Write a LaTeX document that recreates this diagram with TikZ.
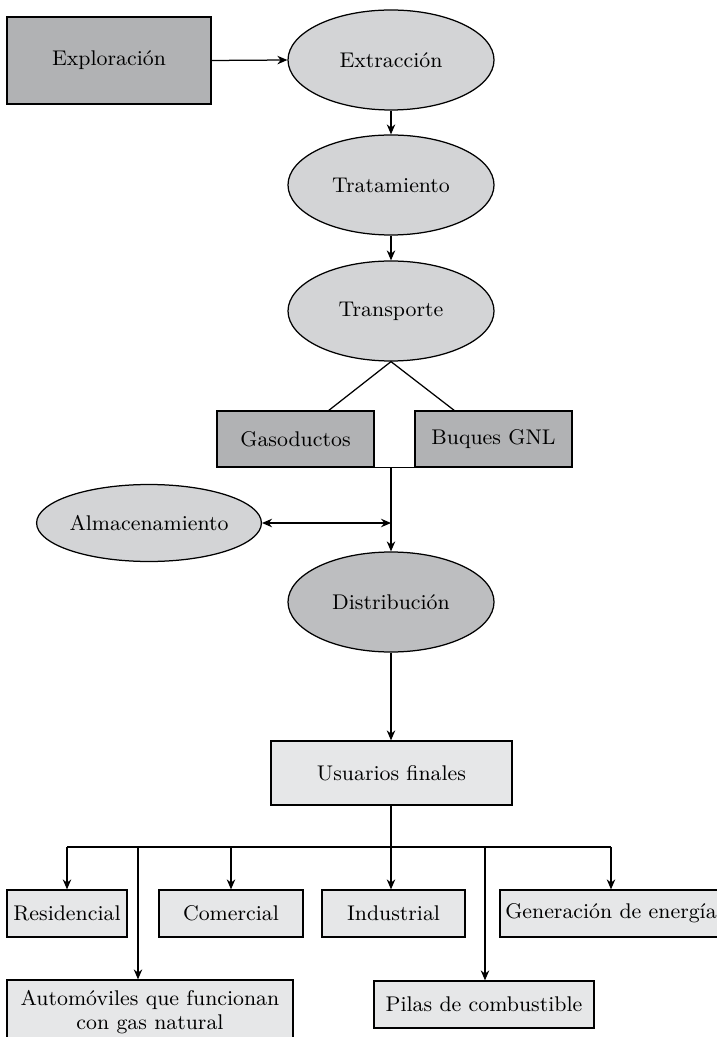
\documentclass[tikz,border=0pt]{standalone}
\usepackage{tikz}
\usetikzlibrary{shapes.geometric,arrows.meta}

\definecolor{darkbox}{RGB}{177,178,180}
\definecolor{ovalfill}{RGB}{211,212,214}
\definecolor{midoval}{RGB}{189,190,192}
\definecolor{lightbox}{RGB}{230,231,232}

\begin{document}
\begin{tikzpicture}[x=0.4pt, y=-0.4pt, font=\fontsize{8.5}{9.4}\selectfont,
    every node/.style={draw, line width=0.5pt, inner sep=0pt},
    darkrect/.style={rectangle, fill=darkbox},
    lightrect/.style={rectangle, fill=lightbox},
    oval/.style={ellipse, fill=ovalfill, minimum width=82.4pt, minimum height=40pt},
    link/.style={line width=0.5pt},
    arr/.style={link, -{Stealth[length=4pt, width=3.4pt]}}]
\useasboundingbox (0,0) rectangle (717,1037);
\node[darkrect, minimum width=81.6pt, minimum height=34.8pt] (explo) at (109,60.5) {Exploración};
\node[oval] (extr) at (391,60) {Extracción};
\node[oval] (trat) at (391,185) {Tratamiento};
\node[oval] (transp) at (391,311) {Transporte};
\node[darkrect, minimum width=62.8pt, minimum height=22.4pt] (gaso) at (295.5,439) {Gasoductos};
\node[darkrect, minimum width=62.8pt, minimum height=22.4pt] (buques) at (493.5,439) {Buques GNL};
\node[oval, minimum width=89.2pt, minimum height=30.8pt] (almac) at (149,523) {Almacenamiento};
\node[oval, fill=midoval] (distr) at (391,602) {Distribución};
\node[lightrect, minimum width=96.4pt, minimum height=25.6pt] (usuar) at (391.5,773) {Usuarios finales};
\node[lightrect, minimum width=48pt, minimum height=18.8pt] (resid) at (67,913.5) {Residencial};
\node[lightrect, minimum width=57.6pt, minimum height=18.8pt] (comer) at (231,913.5) {Comercial};
\node[lightrect, minimum width=57.2pt, minimum height=18.8pt] (indus) at (393.5,913.5) {Industrial};
\node[lightrect, minimum width=88.8pt, minimum height=18.8pt] (gener) at (611,913.5) {Generación de energía};
\node[lightrect, minimum width=114.4pt, minimum height=25.6pt, align=center] (autom) at (150,1012) {Automóviles que funcionan\\con gas natural};
\node[lightrect, minimum width=88pt, minimum height=18.8pt] (pilas) at (484,1004.5) {Pilas de combustible};

\coordinate (gtop) at (328,411);
\coordinate (btop) at (455,411);
\coordinate (merge) at (391,467);
\coordinate (store) at (391,523);
\coordinate (bus) at (391,847);
\coordinate (autotop) at (138,847);
\coordinate (pilatop) at (485,847);

\draw[arr] (explo.east) -- (extr.west);
\draw[arr] (extr.south) -- (trat.north);
\draw[arr] (trat.south) -- (transp.north);
\draw[link] (gtop) -- (transp.south) -- (btop);
\draw[link] (gaso.south east) -- (buques.south west);
\draw[arr] (merge) -- (distr.north);
\draw[link, {Stealth[length=4pt, width=3.4pt]}-{Stealth[length=4pt, width=3.4pt]}] (almac.east) -- (store);
\draw[arr] (distr.south) -- (distr.south |- usuar.north);
\draw[arr] (bus |- usuar.south) -- (bus |- indus.north);
\draw[link] (resid.north |- bus) -- (gener.north |- bus);
\foreach \n in {resid,comer,gener}
    \draw[arr] (\n.north |- bus) -- (\n.north);
\draw[arr] (autotop) -- (autotop |- autom.north);
\draw[arr] (pilatop) -- (pilatop |- pilas.north);
\end{tikzpicture}
\end{document}
